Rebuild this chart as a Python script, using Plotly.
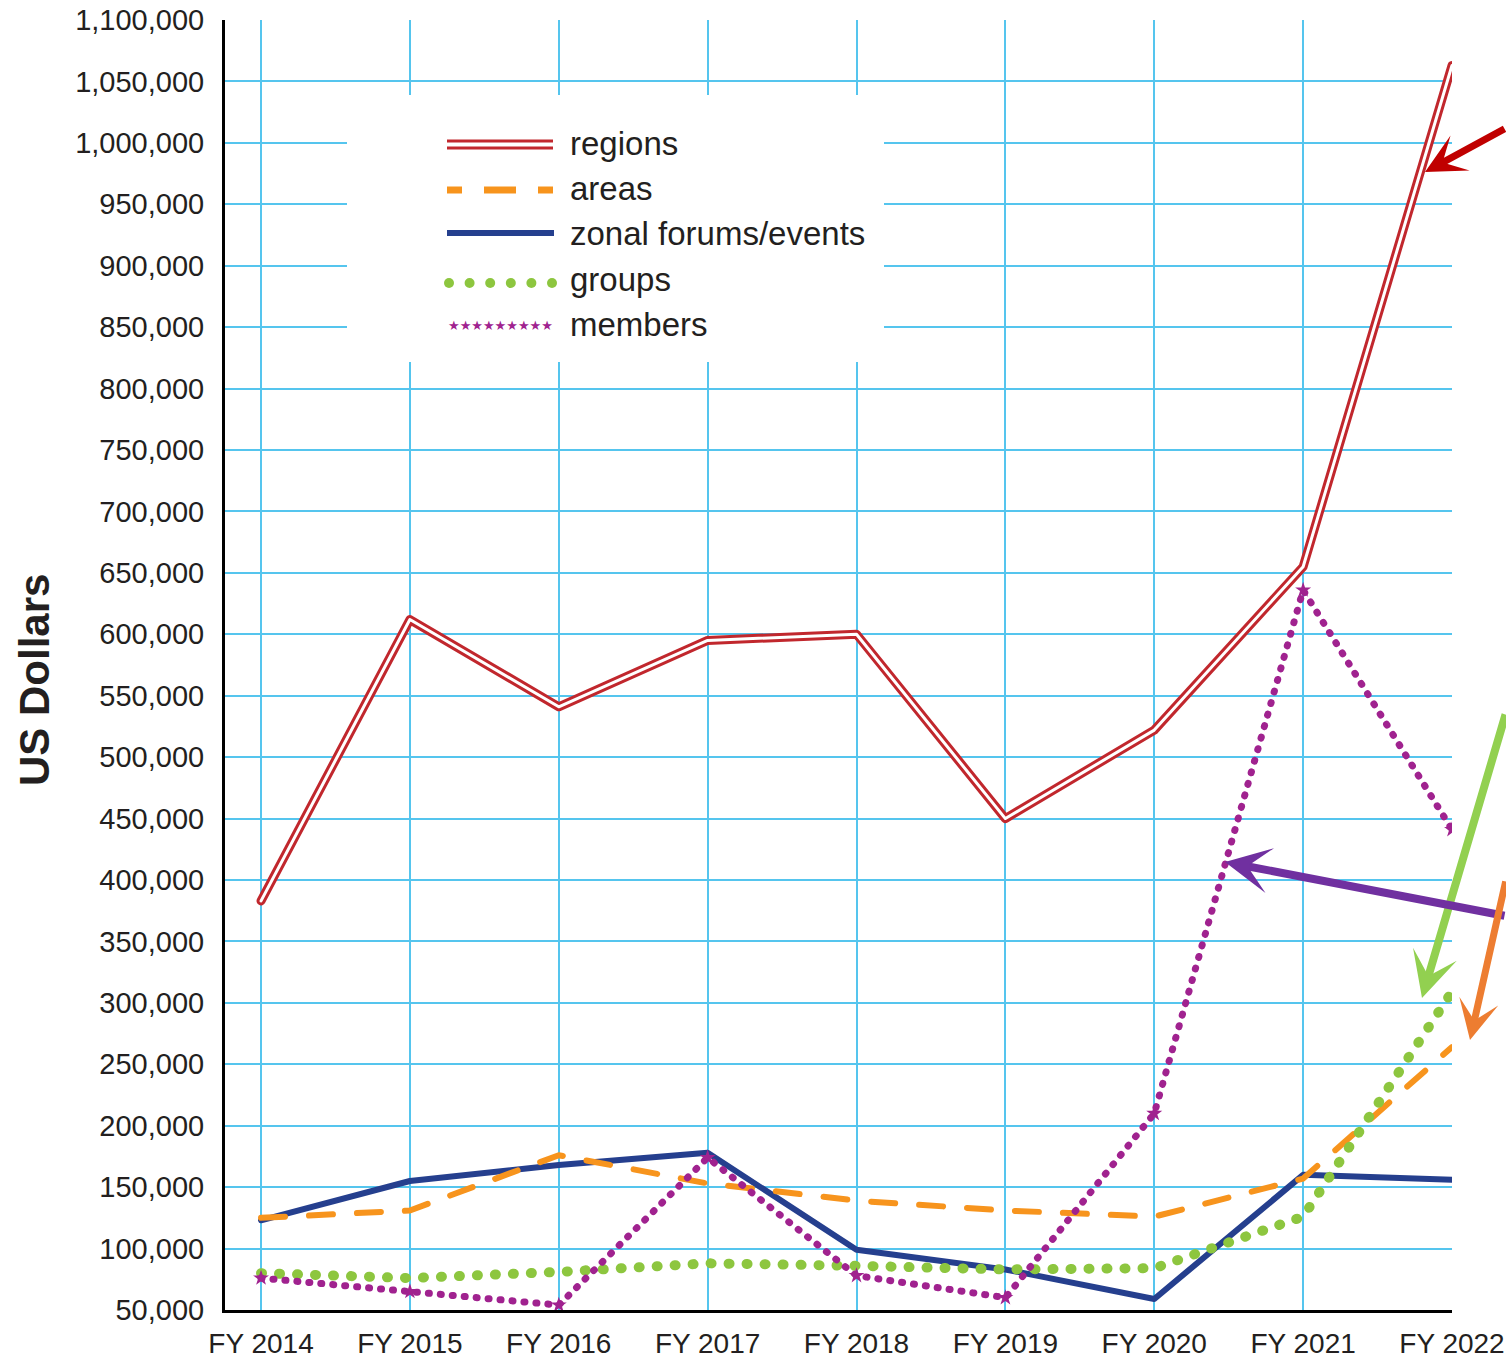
import plotly.graph_objects as go

# ---------------- data ----------------
years = ["FY 2014", "FY 2015", "FY 2016", "FY 2017", "FY 2018",
         "FY 2019", "FY 2020", "FY 2021", "FY 2022"]
regions = [383000, 612000, 541000, 595000, 600000, 450000, 522000, 655000, 1063000]
areas = [125000, 131000, 176000, 153000, 139000, 131000, 126000, 157000, 264000]
zonal = [123000, 155000, 168000, 178000, 99000, 83000, 59000, 160000, 156000]
groups = [80000, 76000, 81000, 88000, 86000, 83000, 84000, 126000, 309000]
members = [76000, 65000, 54000, 174000, 78000, 60000, 210000, 636000, 441000]
series_names = ["regions", "areas", "zonal forums/events", "groups", "members"]
y_ticks = list(range(50000, 1100001, 50000))

# ---------------- styles ----------------
RED = "#c1272d"
ORANGE = "#f7941d"
NAVY = "#253f8e"
GREEN = "#8dc63f"
PURPLE = "#a0228f"
GRID = "#55c5ee"
TXT = "#231f20"
FONT = "Liberation Sans, Arial, sans-serif"

W, H = 1506, 1363
PL, PR, PT, PB = 225, 1452, 20, 1310


def xp(px):
    return (px - PL) / (PR - PL)


def yp(py):
    return (PB - py) / (PB - PT)


xi = list(range(len(years)))

fig = go.Figure()
# regions: double line (red outer, white inner)
fig.add_trace(go.Scatter(x=xi, y=regions, mode="lines", name=series_names[0],
                         line=dict(color=RED, width=9), showlegend=False))
fig.add_trace(go.Scatter(x=xi, y=regions, mode="lines", name=series_names[0],
                         line=dict(color="white", width=3), showlegend=False))
fig.add_trace(go.Scatter(x=xi, y=zonal, mode="lines", name=series_names[2],
                         line=dict(color=NAVY, width=6), showlegend=False))
fig.add_trace(go.Scatter(x=xi, y=areas, mode="lines", name=series_names[1],
                         line=dict(color=ORANGE, width=6, dash="24px,24px"),
                         showlegend=False))
fig.add_trace(go.Scatter(x=xi, y=groups, mode="lines", name=series_names[3],
                         line=dict(color=GREEN, width=10, dash="1px,17px"),
                         showlegend=False))
fig.add_trace(go.Scatter(x=xi, y=members, mode="lines+markers", name=series_names[4],
                         line=dict(color=PURPLE, width=7, dash="1px,11px"),
                         marker=dict(symbol="star", size=12, color=PURPLE),
                         showlegend=False))

shapes = []
annotations = []

# legend box
shapes.append(dict(type="rect", xref="paper", yref="paper",
                   x0=xp(347), x1=xp(884), y0=yp(362), y1=yp(95),
                   fillcolor="white", line=dict(width=0), layer="above"))
# regions sample (double)
for yy in (141, 148):
    shapes.append(dict(type="line", xref="paper", yref="paper",
                       x0=xp(447), x1=xp(553), y0=yp(yy), y1=yp(yy),
                       line=dict(color=RED, width=3), layer="above"))
# areas sample (short, long, short dashes)
for a, b in ((447, 462), (484, 516), (538, 553)):
    shapes.append(dict(type="line", xref="paper", yref="paper",
                       x0=xp(a), x1=xp(b), y0=yp(190), y1=yp(190),
                       line=dict(color=ORANGE, width=7), layer="above"))
# zonal sample
shapes.append(dict(type="line", xref="paper", yref="paper",
                   x0=xp(447), x1=xp(554), y0=yp(233), y1=yp(233),
                   line=dict(color=NAVY, width=6), layer="above"))
# groups sample dots
for i in range(6):
    cx = 449 + i * 20.6
    shapes.append(dict(type="circle", xref="paper", yref="paper",
                       x0=xp(cx - 5), x1=xp(cx + 5), y0=yp(283 + 5), y1=yp(283 - 5),
                       fillcolor=GREEN, line=dict(width=0), layer="above"))
# members sample stars
annotations.append(dict(xref="paper", yref="paper", x=xp(500), y=yp(326),
                        text="★★★★★★★★★", showarrow=False,
                        font=dict(size=13, color=PURPLE, family="DejaVu Sans"),
                        xanchor="center", yanchor="middle"))
for name, yy in zip(series_names, (143, 188, 233, 279, 325)):
    annotations.append(dict(xref="paper", yref="paper", x=xp(568), y=yp(yy),
                            text=name, showarrow=False, xanchor="left",
                            yanchor="middle",
                            font=dict(size=33, color=TXT, family=FONT)))

# y axis title
annotations.append(dict(xref="paper", yref="paper", x=xp(34), y=yp(680),
                        text="<b>US Dollars</b>", showarrow=False, textangle=-90,
                        xanchor="center", yanchor="middle",
                        font=dict(size=42, color=TXT, family=FONT)))

# pointing arrows
arrows = [
    (1425, 172, 95, -44, "#c00000", 7),
    (1422, 998, 90, -285, "#92d050", 8),
    (1225, 862, 290, 54, "#7030a0", 8),
    (1470, 1040, 40, -160, "#ed7d31", 7),
]
for hx, hy, ax, ay, col, wd in arrows:
    annotations.append(dict(xref="paper", yref="paper", x=xp(hx), y=yp(hy),
                            ax=ax, ay=ay, text="", showarrow=True,
                            arrowhead=3, arrowsize=0.95, arrowwidth=wd,
                            arrowcolor=col, standoff=0))

fig.update_layout(
    width=W, height=H,
    margin=dict(l=PL, r=W - PR, t=PT, b=H - PB, pad=0, autoexpand=False),
    paper_bgcolor="white", plot_bgcolor="white",
    font=dict(family=FONT, color=TXT),
    shapes=shapes, annotations=annotations,
    hovermode=False,
)
fig.update_xaxes(
    range=[-0.242, 8], tickmode="array", tickvals=xi, ticktext=years,
    showgrid=True, gridcolor=GRID, gridwidth=2,
    showline=True, linecolor="black", linewidth=3,
    ticks="", ticklabelstandoff=6, tickfont=dict(size=28, color=TXT, family=FONT),
    zeroline=False, fixedrange=True, automargin=False,
)
fig.update_yaxes(
    range=[50000, 1100000], tickmode="array", tickvals=y_ticks,
    tickformat=",d", showgrid=True, gridcolor=GRID, gridwidth=2,
    showline=True, linecolor="black", linewidth=3,
    ticks="", ticklabelstandoff=12, tickfont=dict(size=29, color=TXT, family=FONT),
    zeroline=False, fixedrange=True, automargin=False,
)

post = """
document.body.style.margin='0px';
document.body.style.overflow='hidden';
document.querySelectorAll('.scatterlayer path.js-line').forEach(function(p){
  p.style.strokeLinecap='round';
  p.style.strokeLinejoin='round';
});
"""
fig.write_html("out.html", post_script=post, config={"displayModeBar": False})
